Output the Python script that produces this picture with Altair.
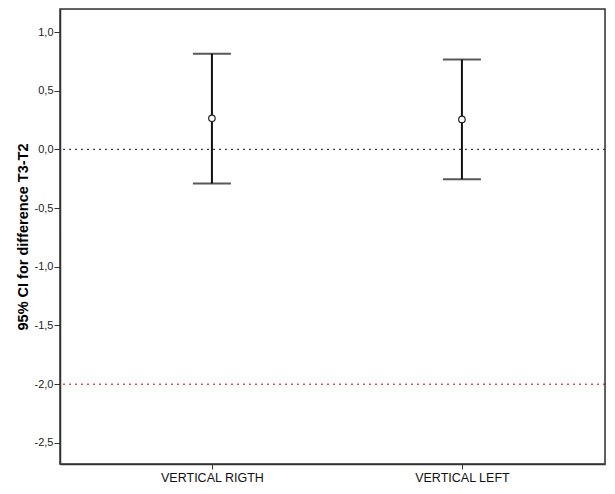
import altair as alt
import pandas as pd

categories = ["VERTICAL RIGTH", "VERTICAL LEFT"]
means = [0.265, 0.255]
lower = [-0.29, -0.255]
upper = [0.815, 0.765]
ref_values = [0.0, -2.0]
ref_colors = ["#444444", "#d9534f"]
y_ticks = [1.0, 0.5, 0.0, -0.5, -1.0, -1.5, -2.0, -2.5]

df = pd.DataFrame({"cat": categories, "mean": means, "lo": lower, "hi": upper})
ref = pd.DataFrame({"v": ref_values, "c": ref_colors})

font = "Liberation Sans"
xscale = alt.Scale(type="point", padding=0.59, align=0.515, domain=categories)
yscale = alt.Scale(domain=[-2.68, 1.196], nice=False, zero=False)

xenc = alt.X("cat:N", scale=xscale, sort=categories,
             axis=alt.Axis(title=None, labelAngle=0, labelFont=font, labelFontSize=12.5,
                           labelColor="#111", tickSize=5, tickColor="#333",
                           domainColor="#333", domainWidth=1.5, labelPadding=2))
yaxis = alt.Axis(title="95% CI for difference T3-T2", titleFont=font, titleFontSize=14.5,
                 titleFontWeight="bold", titleColor="#000", titlePadding=4,
                 values=y_ticks,
                 labelExpr="(datum.value < 0 ? '-' : '') + replace(format(abs(datum.value), '.1f'), '.', ',')",
                 labelFont=font, labelFontSize=11, labelColor="#222", tickSize=6,
                 tickColor="#333", domainColor="#333", domainWidth=1.5, grid=False,
                 labelPadding=1)

base = alt.Chart(df)

frame = alt.Chart(pd.DataFrame({"f": [0]})).mark_rect(
    fill=None, stroke="#333", strokeWidth=1.5).encode(
    x=alt.value(0), x2=alt.value("width"), y=alt.value(0), y2=alt.value("height"))

rules = alt.Chart(ref).mark_rule(strokeDash=[2, 4], strokeWidth=1.4).encode(
    y=alt.Y("v:Q", scale=yscale, axis=yaxis),
    color=alt.Color("c:N", scale=None),
)

bars = base.mark_rule(color="#111", strokeWidth=2).encode(
    x=xenc, y=alt.Y("lo:Q", scale=yscale), y2="hi:Q")
cap_lo = base.mark_tick(color="#111", thickness=2, size=38).encode(
    x=xenc, y=alt.Y("lo:Q", scale=yscale))
cap_hi = base.mark_tick(color="#111", thickness=2, size=38).encode(
    x=xenc, y=alt.Y("hi:Q", scale=yscale))
pts = base.mark_point(shape="circle", filled=True, fill="white", stroke="#222",
                      strokeWidth=1.2, size=42, opacity=1).encode(
    x=xenc, y=alt.Y("mean:Q", scale=yscale))

chart = alt.layer(rules, bars, cap_lo, cap_hi, pts, frame).properties(
    width=545, height=455,
    autosize=alt.AutoSizeParams(type="none"),
    padding={"left": 52, "top": 1, "right": 1, "bottom": 22},
).configure_view(stroke="#333", strokeWidth=1.5).configure(background="white")

chart.save("out.html", embed_options={"renderer": "svg", "actions": False})
